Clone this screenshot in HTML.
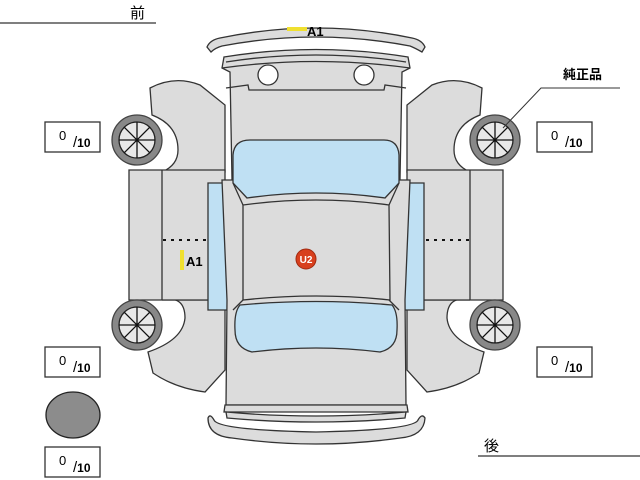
<!DOCTYPE html>
<html><head><meta charset="utf-8"><style>
html,body{margin:0;padding:0;background:#fff;}
svg{display:block;}
text{font-family:"Liberation Sans","Noto Sans CJK JP",sans-serif;}
</style></head><body>
<svg width="640" height="480" viewBox="0 0 640 480" xmlns="http://www.w3.org/2000/svg">
<defs>
<g id="side" stroke="#333" stroke-width="1.3" fill="#dcdcdc">
  <!-- front fender -->
  <path d="M150,88 Q175,75 200,85 L225,105 L225,172 L162,172 Q178,165 178,150 Q178,125 152,115 Z"/>
  <!-- rear fender -->
  <path d="M162,300 Q185,295 185,318 Q183,340 148,352 L153,373 Q175,388 205,392 L225,370 L225,300 Z"/>
  <!-- body side -->
  <path d="M129,170 L225,170 L225,300 L129,300 Z"/>
  <path d="M162,170 L162,300" fill="none"/>
  <path d="M163,240 L208,240" fill="none" stroke="#111" stroke-width="2" stroke-dasharray="3,5"/>
  <!-- side window -->
  <path d="M208,183 L228,183 L238,200 L238,300 L228,310 L208,310 Z" fill="#bfe0f3"/>
  <!-- wheels -->
  <g transform="translate(137,140)">
    <circle r="25" fill="#888" stroke="#444"/><circle r="18" fill="#e8e8e8" stroke="#222"/>
    <path d="M-18,0H18M0,-18V18M-12.7,-12.7L12.7,12.7M12.7,-12.7L-12.7,12.7" stroke="#111" fill="none"/>
  </g>
  <g transform="translate(137,325)">
    <circle r="25" fill="#888" stroke="#444"/><circle r="18" fill="#e8e8e8" stroke="#222"/>
    <path d="M-18,0H18M0,-18V18M-12.7,-12.7L12.7,12.7M12.7,-12.7L-12.7,12.7" stroke="#111" fill="none"/>
  </g>
</g>
</defs>
<!-- labels top/bottom -->
<text x="130" y="18" font-size="15">前</text>
<line x1="0" y1="23" x2="156" y2="23" stroke="#333" stroke-width="1.3"/>
<text x="484" y="451" font-size="15">後</text>
<line x1="478" y1="456" x2="640" y2="456" stroke="#333" stroke-width="1.3"/>

<use href="#side"/>
<use href="#side" transform="translate(632,0) scale(-1,1)"/>

<g stroke="#333" stroke-width="1.3" fill="#dcdcdc">
  <!-- front bumper -->
  <path d="M207,47 Q210,40 220,38 Q316,18 412,38 Q422,40 425,47 L422,52 Q415,48 410,46 Q316,28 222,46 Q215,48 211,52 Z"/>
  <!-- hood -->
  <path d="M224,57 Q316,42 408,57 L410,68 L402,72 L400,180 L232,180 L230,72 L222,68 Z"/>
  <path d="M226,62 Q316,48 406,62" fill="none"/>
  <path d="M222,68 Q316,55 410,68" fill="none"/>
  <path d="M226,88 L248,85 L249,90 L384,90 L385,85 L406,88" fill="none"/>
  <circle cx="268" cy="75" r="10" fill="#fff"/>
  <circle cx="364" cy="75" r="10" fill="#fff"/>
  <!-- cabin / trunk -->
  <path d="M222,180 L410,180 L405,300 L406,405 L226,405 L227,300 Z"/>
  <!-- windshield -->
  <path d="M233,155 Q234,140 250,140 L384,140 Q398,140 399,155 L399,183 L385,198 Q316,188 247,198 L233,183 Z" fill="#bfe0f3"/>
  <!-- roof -->
  <path d="M243,205 Q316,195 389,205 L390,300 Q316,292 243,300 Z"/>
  <path d="M233,183 L243,205 M399,183 L389,205 M243,300 L233,310 M389,300 L399,310" fill="none"/>
  <!-- rear window -->
  <path d="M240,305 Q316,298 392,305 Q398,312 397,330 Q397,348 380,352 Q316,344 252,352 Q235,348 235,330 Q234,312 240,305 Z" fill="#bfe0f3"/>
  <!-- rear bumper -->
  <path d="M225,405 L407,405 L408,412 L224,412 Z"/>
  <path d="M226,412 Q316,420 406,412 L405,418 Q316,426 227,418 Z"/>
  <path d="M208,418 Q210,413 214,420 Q218,430 316,432 Q414,430 418,420 Q422,413 425,418 Q424,436 400,438 Q316,450 232,438 Q208,436 208,418 Z"/>
</g>
<!-- marks -->
<rect x="287" y="27" width="20" height="4" fill="#f0e030"/>
<text x="307" y="36" font-size="13" font-weight="bold">A1</text>
<rect x="180" y="250" width="4" height="20" fill="#f0e030"/>
<text x="186" y="266" font-size="13" font-weight="bold">A1</text>
<circle cx="306" cy="259" r="10" fill="#d8401e" stroke="#a02a10"/>
<text x="306" y="263" font-size="10" font-weight="bold" fill="#fff" text-anchor="middle">U2</text>
<!-- 純正品 -->
<text x="563" y="79" font-size="13" font-weight="bold">純正品</text>
<path d="M620,88 L541,88 L503,128" stroke="#333" fill="none"/>
<!-- score boxes -->
<g stroke="#333" stroke-width="1.3" fill="#fff">
  <rect x="45" y="122" width="55" height="30"/>
  <rect x="537" y="122" width="55" height="30"/>
  <rect x="45" y="347" width="55" height="30"/>
  <rect x="537" y="347" width="55" height="30"/>
  <rect x="45" y="447" width="55" height="30"/>
</g>
<g font-size="13">
  <text x="59" y="140">0</text><text x="73" y="147" font-size="15">/<tspan font-size="12" font-weight="bold">10</tspan></text>
  <text x="551" y="140">0</text><text x="565" y="147" font-size="15">/<tspan font-size="12" font-weight="bold">10</tspan></text>
  <text x="59" y="365">0</text><text x="73" y="372" font-size="15">/<tspan font-size="12" font-weight="bold">10</tspan></text>
  <text x="551" y="365">0</text><text x="565" y="372" font-size="15">/<tspan font-size="12" font-weight="bold">10</tspan></text>
  <text x="59" y="465">0</text><text x="73" y="472" font-size="15">/<tspan font-size="12" font-weight="bold">10</tspan></text>
</g>
<ellipse cx="73" cy="415" rx="27" ry="23" fill="#8c8c8c" stroke="#222" stroke-width="1.3"/>
</svg>
</body></html>
